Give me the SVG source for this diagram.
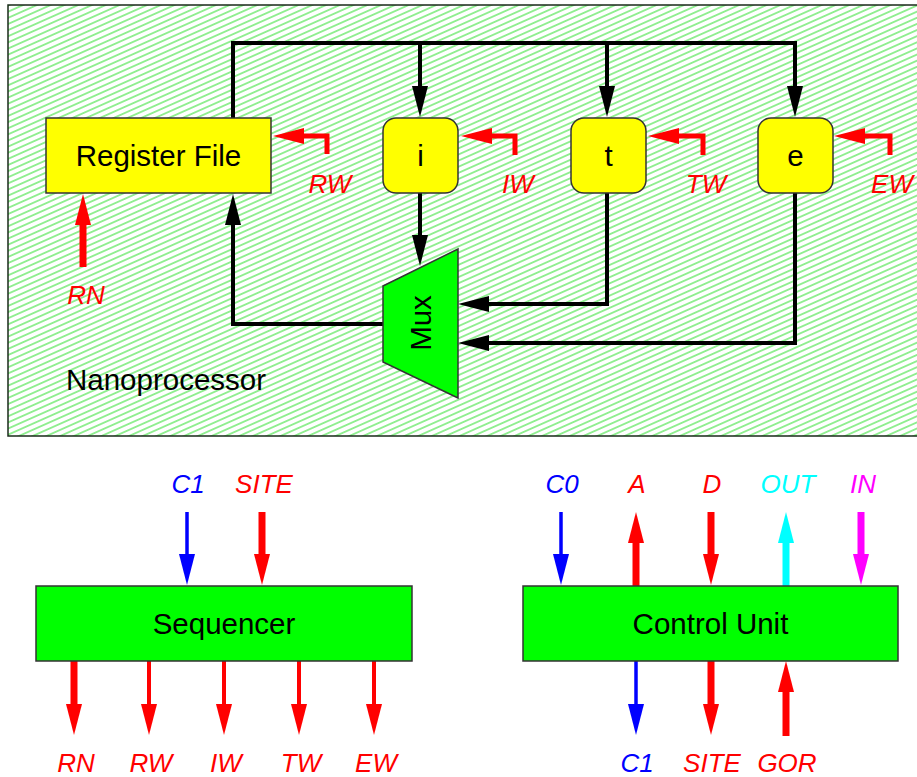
<svg xmlns="http://www.w3.org/2000/svg" width="917" height="777" viewBox="0 0 917 777">
<style>
.lbl{font-family:"Liberation Sans",Arial,sans-serif;font-size:29.5px;fill:#000;text-anchor:middle}
.sig{font-family:"Liberation Sans",Arial,sans-serif;font-size:26px;font-style:italic;text-anchor:middle}
.box{fill:#ffff00;stroke:#333;stroke-width:1.5}
.grn{fill:#00ff00;stroke:#333;stroke-width:1.5}
.wk{fill:none;stroke:#000;stroke-width:4}
.wr{fill:none;stroke:#ff0000;stroke-width:5}
.wr7{fill:none;stroke:#ff0000;stroke-width:7}
.wr4{fill:none;stroke:#ff0000;stroke-width:4}
.wb{fill:none;stroke:#0000ff;stroke-width:3.5}
.wc{fill:none;stroke:#00ffff;stroke-width:7}
.wm{fill:none;stroke:#ff00ff;stroke-width:7}
</style>
<defs>
<pattern id="hatch" patternUnits="userSpaceOnUse" width="6" height="5.6" patternTransform="rotate(-24)">
<line x1="0" y1="2.8" x2="6" y2="2.8" stroke="#2ee02e" stroke-width="1"/>
</pattern>
<marker id="hk" markerUnits="userSpaceOnUse" markerWidth="31" markerHeight="16" viewBox="0 0 31 16" refX="1" refY="8" orient="auto"><path d="M0,0 L31,8 L0,16 z" fill="#000"/></marker>
<marker id="hr" markerUnits="userSpaceOnUse" markerWidth="31" markerHeight="16" viewBox="0 0 31 16" refX="1" refY="8" orient="auto"><path d="M0,0 L31,8 L0,16 z" fill="#ff0000"/></marker>
<marker id="hb" markerUnits="userSpaceOnUse" markerWidth="31" markerHeight="16" viewBox="0 0 31 16" refX="1" refY="8" orient="auto"><path d="M0,0 L31,8 L0,16 z" fill="#0000ff"/></marker>
<marker id="hc" markerUnits="userSpaceOnUse" markerWidth="31" markerHeight="16" viewBox="0 0 31 16" refX="1" refY="8" orient="auto"><path d="M0,0 L31,8 L0,16 z" fill="#00ffff"/></marker>
<marker id="hm" markerUnits="userSpaceOnUse" markerWidth="31" markerHeight="16" viewBox="0 0 31 16" refX="1" refY="8" orient="auto"><path d="M0,0 L31,8 L0,16 z" fill="#ff00ff"/></marker>
</defs>
<rect width="917" height="777" fill="#fff"/>
<g id="nanoprocessor">
<rect x="8" y="5" width="920" height="431" fill="#fff"/>
<rect x="8" y="5" width="920" height="431" fill="url(#hatch)" stroke="#1a2a1a" stroke-width="1.5"/>
<text class="lbl" x="66" y="390" style="text-anchor:start">Nanoprocessor</text>
</g>
<g id="connectors">
<path class="wk" d="M233,118 V43 H795 V87" marker-end="url(#hk)"/>
<path class="wk" d="M420,43 V87" marker-end="url(#hk)"/>
<path class="wk" d="M607,43 V87" marker-end="url(#hk)"/>
<path class="wk" d="M420,193 V236" marker-end="url(#hk)"/>
<path class="wk" d="M607,193 V304 H488" marker-end="url(#hk)"/>
<path class="wk" d="M795,193 V343 H488" marker-end="url(#hk)"/>
<path class="wk" d="M383,324 H233 V224" marker-end="url(#hk)"/>
<path class="wr" d="M327,154 V136 H303" marker-end="url(#hr)"/>
<path class="wr" d="M515,155 V136 H491" marker-end="url(#hr)"/>
<path class="wr" d="M703,155 V136 H678" marker-end="url(#hr)"/>
<path class="wr" d="M890,155 V136 H864" marker-end="url(#hr)"/>
<path class="wr7" d="M83,267 V224" marker-end="url(#hr)"/>
<path class="wb" d="M187,512 V555" marker-end="url(#hb)"/>
<path class="wr7" d="M262,512 V555" marker-end="url(#hr)"/>
<path class="wr7" d="M74,661 V705" marker-end="url(#hr)"/>
<path class="wr4" d="M149,661 V705" marker-end="url(#hr)"/>
<path class="wr4" d="M224,661 V705" marker-end="url(#hr)"/>
<path class="wr4" d="M299,661 V705" marker-end="url(#hr)"/>
<path class="wr4" d="M374,661 V705" marker-end="url(#hr)"/>
<path class="wb" d="M561,512 V555" marker-end="url(#hb)"/>
<path class="wr7" d="M636,586 V542" marker-end="url(#hr)"/>
<path class="wr7" d="M711,512 V555" marker-end="url(#hr)"/>
<path class="wc" d="M786,586 V542" marker-end="url(#hc)"/>
<path class="wm" d="M861,512 V555" marker-end="url(#hm)"/>
<path class="wb" d="M636,661 V705" marker-end="url(#hb)"/>
<path class="wr7" d="M711,661 V705" marker-end="url(#hr)"/>
<path class="wr7" d="M786,736 V691" marker-end="url(#hr)"/>
</g>
<g id="register-file">
<rect class="box" x="46" y="118" width="225" height="75"/>
<text class="lbl" x="158.5" y="165.5">Register File</text>
</g>
<g id="reg-i">
<rect class="box" x="383" y="118" width="75" height="75" rx="13"/>
<text class="lbl" x="420.5" y="165.5">i</text>
</g>
<g id="reg-t">
<rect class="box" x="571" y="118" width="75" height="75" rx="13"/>
<text class="lbl" x="608.5" y="165.5">t</text>
</g>
<g id="reg-e">
<rect class="box" x="758" y="118" width="75" height="75" rx="13"/>
<text class="lbl" x="795.5" y="165.5">e</text>
</g>
<g id="mux">
<polygon class="grn" points="383,286 458,249 458,398 383,362"/>
<text class="lbl" transform="translate(431,323) rotate(-90)" x="0" y="0">Mux</text>
</g>
<g id="sequencer">
<rect class="grn" x="36" y="586" width="376" height="75"/>
<text class="lbl" x="224" y="633.5">Sequencer</text>
</g>
<g id="control-unit">
<rect class="grn" x="523" y="586" width="375" height="75"/>
<text class="lbl" x="710.5" y="633.5">Control Unit</text>
</g>
<g id="labels">
<text class="sig" x="330" y="193" fill="#ff0000">RW</text>
<text class="sig" x="518" y="193" fill="#ff0000">IW</text>
<text class="sig" x="706" y="193" fill="#ff0000">TW</text>
<text class="sig" x="892" y="193" fill="#ff0000">EW</text>
<text class="sig" x="86" y="304" fill="#ff0000">RN</text>
<text class="sig" x="188" y="493" fill="#0000ff">C1</text>
<text class="sig" x="264" y="493" fill="#ff0000">SITE</text>
<text class="sig" x="562" y="493" fill="#0000ff">C0</text>
<text class="sig" x="637" y="493" fill="#ff0000">A</text>
<text class="sig" x="712" y="493" fill="#ff0000">D</text>
<text class="sig" x="788" y="493" fill="#00ffff">OUT</text>
<text class="sig" x="863" y="493" fill="#ff00ff">IN</text>
<text class="sig" x="76" y="772" fill="#ff0000">RN</text>
<text class="sig" x="151" y="772" fill="#ff0000">RW</text>
<text class="sig" x="226" y="772" fill="#ff0000">IW</text>
<text class="sig" x="301" y="772" fill="#ff0000">TW</text>
<text class="sig" x="376" y="772" fill="#ff0000">EW</text>
<text class="sig" x="637" y="772" fill="#0000ff">C1</text>
<text class="sig" x="712" y="772" fill="#ff0000">SITE</text>
<text class="sig" x="787" y="772" fill="#ff0000">GOR</text>
</g>
</svg>
